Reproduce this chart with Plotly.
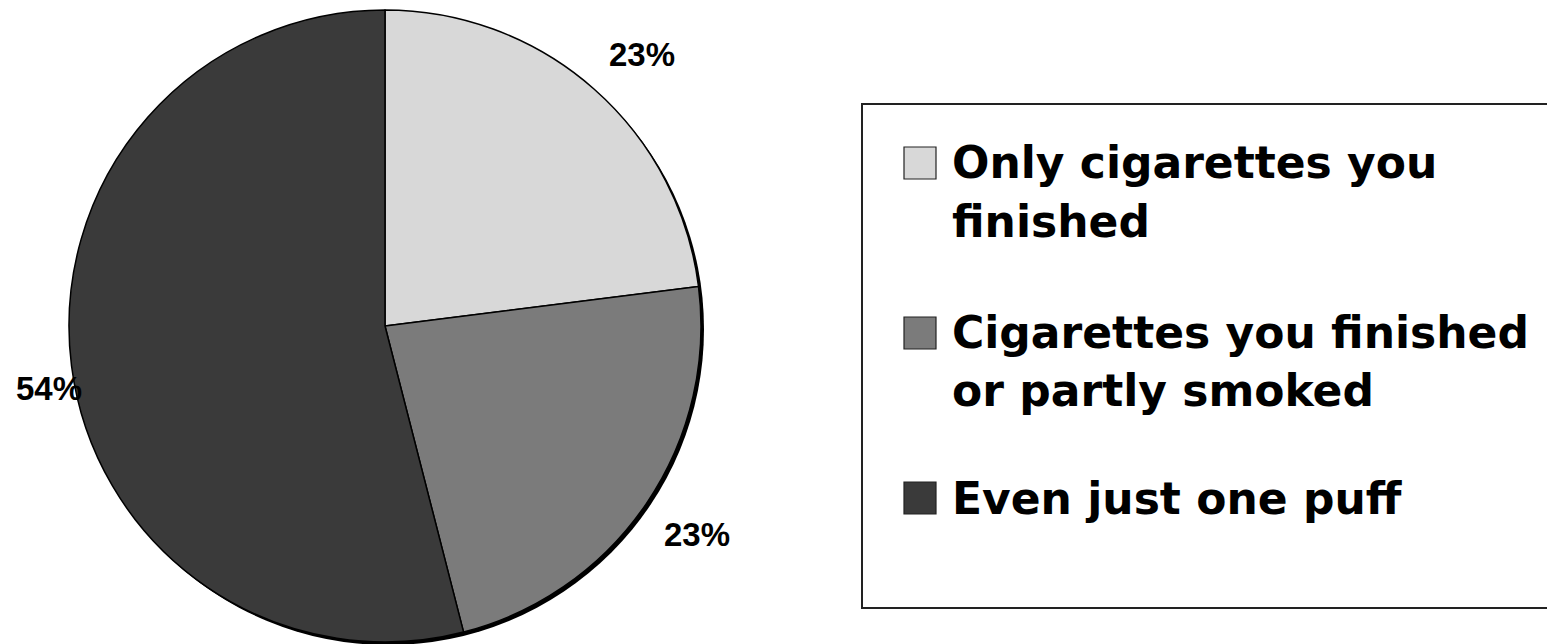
import math
import plotly.graph_objects as go

# Share of respondents by definition of "smoking"
categories = [
    "Only cigarettes you finished",
    "Cigarettes you finished or partly smoked",
    "Even just one puff",
]
legend_lines = [
    ["Only cigarettes you", "finished"],
    ["Cigarettes you finished", "or partly smoked"],
    ["Even just one puff"],
]
values = [23, 23, 54]
colors = ["#d8d8d8", "#7b7b7b", "#3a3a3a"]

# Figure geometry (pixels)
W, H = 1547, 644
CX, CY, R = 385, 326, 316
LABEL_R = 1.06          # radial distance of the label corner, in pie radii
LABEL_MIN_X = 14        # labels are kept inside the chart area
label_font = dict(family="Liberation Sans, Arial, sans-serif", size=33, color="black")
legend_font = dict(family="DejaVu Sans, sans-serif", size=44, color="black")


def px(x):
    return x / W


def py(y):
    return 1 - y / H


fig = go.Figure()
fig.add_trace(
    go.Pie(
        labels=categories,
        values=values,
        sort=False,
        direction="clockwise",
        rotation=0,
        marker=dict(colors=colors, line=dict(color="black", width=1.5)),
        textinfo="none",
        hoverinfo="label+percent",
        showlegend=False,
        domain=dict(x=[px(CX - R), px(CX + R)], y=[py(CY + R), py(CY - R)]),
    )
)

shapes = []
# darker rim on the lower right of the pie
shapes.append(
    dict(
        type="circle", xref="paper", yref="paper", layer="below",
        x0=px(CX - R + 3), x1=px(CX + R + 3), y0=py(CY + R + 3), y1=py(CY - R + 3),
        fillcolor="black", line=dict(width=0),
    )
)

annotations = []
# percentage labels: a corner of each label sits just outside its slice mid-angle
total = sum(values)
start = 0.0
for v in values:
    mid = (start + v / 2) / total * 2 * math.pi
    start += v
    s, c = math.sin(mid), math.cos(mid)
    ax = CX + R * LABEL_R * s
    ay = CY - R * LABEL_R * c
    text = f"{round(v / total * 100)}%"
    est_w = label_font["size"] * 2.0
    if s >= 0:
        xanchor = "left"
    else:
        xanchor = "right"
        if ax - est_w < LABEL_MIN_X:
            ax, xanchor = LABEL_MIN_X, "left"
    yanchor = "bottom" if c >= 0 else "top"
    annotations.append(
        dict(
            x=px(ax), y=py(ay), xref="paper", yref="paper",
            text=f"<b>{text}</b>", showarrow=False,
            xanchor=xanchor, yanchor=yanchor, font=label_font,
        )
    )

# legend frame
shapes.append(
    dict(
        type="rect", xref="paper", yref="paper",
        x0=px(862), x1=px(1570), y0=py(608), y1=py(104),
        line=dict(color="#222222", width=2), fillcolor="rgba(0,0,0,0)",
    )
)

# legend entries
item_centers = [163, 333, 498]
line_gap = 58
sw = 32
for i, lines in enumerate(legend_lines):
    yc = item_centers[i]
    shapes.append(
        dict(
            type="rect", xref="paper", yref="paper",
            x0=px(904), x1=px(904 + sw), y0=py(yc + sw / 2), y1=py(yc - sw / 2),
            fillcolor=colors[i], line=dict(color="#222222", width=1.2),
        )
    )
    for j, line in enumerate(lines):
        annotations.append(
            dict(
                x=px(950), y=py(yc + j * line_gap), xref="paper", yref="paper",
                text=f"<b>{line}</b>", showarrow=False,
                xanchor="left", yanchor="middle", font=legend_font,
            )
        )

fig.update_layout(
    width=W, height=H,
    margin=dict(l=0, r=0, t=0, b=0),
    paper_bgcolor="white", plot_bgcolor="white",
    shapes=shapes, annotations=annotations,
    showlegend=False,
)

fig.write_html("out.html")
